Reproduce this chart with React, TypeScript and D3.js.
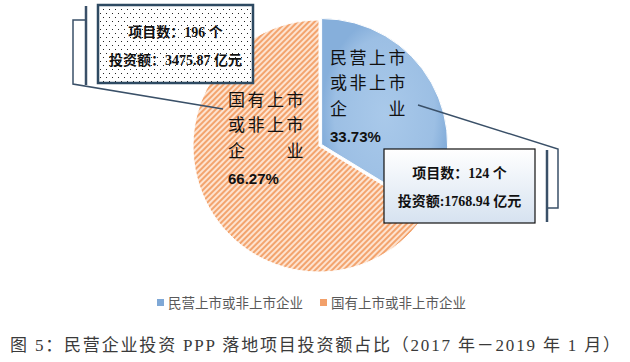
import React from "react";
import * as d3 from "d3";

const categories = ["民营上市或非上市企业", "国有上市或非上市企业"];
const investment = [1768.94, 3475.87];
const projects = [124, 196];
const percentLabels = ["33.73%", "66.27%"];
const sliceLines = [
  ["民营上市", "或非上市", "企  业"],
  ["国有上市", "或非上市", "企  业"],
];
const caption = "图 5：民营企业投资 PPP 落地项目投资额占比（2017 年－2019 年 1 月）";

const width = 630;
const height = 362;
const cx = 319;
const cy = 146;
const radius = 126;

const cjk = "'Noto Sans CJK SC', 'Noto Sans', sans-serif";
const serifCjk = "'Liberation Serif', 'Noto Sans CJK SC', serif";

export default function App() {
  const pie = d3.pie<number>().sort(null).value((d) => d);
  const arcs = pie(investment);
  const arc = d3.arc<d3.PieArcDatum<number>>().innerRadius(0).outerRadius(radius);

  const fills = ["url(#blueGrad)", "url(#hatch)"];
  const legendColors = ["#7fa8d6", "#f2a06a"];
  const explode = [3, 0];

  // label anchor positions (top-left of the text block)
  const labelPos = [
    { x: 330, y: 58 },
    { x: 228, y: 100 },
  ];
  const charStep = 19.5;

  return (
    <svg
      width={width}
      height={height}
      style={{ position: "absolute", left: 0, top: 0, background: "#fff" }}
    >
      <defs>
        <radialGradient id="blueGrad" cx="50%" cy="50%" r="50%">
          <stop offset="0%" stopColor="#a9c9ea" />
          <stop offset="80%" stopColor="#9cbfe4" />
          <stop offset="100%" stopColor="#86afdb" />
        </radialGradient>
        <pattern id="hatch" width="4" height="4" patternUnits="userSpaceOnUse" patternTransform="rotate(45)">
          <rect width="4" height="4" fill="#fde3d0" />
          <rect width="2" height="4" fill="#f3a46e" />
        </pattern>
        <pattern id="dots" width="6" height="8" patternUnits="userSpaceOnUse">
          <rect width="6" height="8" fill="#fff" />
          <rect x="1" y="1" width="1" height="1" fill="#222" />
          <rect x="4" y="5" width="1" height="1" fill="#222" />
        </pattern>
        <linearGradient id="boxGrad" x1="0" y1="0" x2="0" y2="1">
          <stop offset="0%" stopColor="#ffffff" />
          <stop offset="100%" stopColor="#d6e2f0" />
        </linearGradient>
      </defs>

      {/* pie slices */}
      {arcs.map((a, i) => {
        const mid = (a.startAngle + a.endAngle) / 2;
        const dx = Math.sin(mid) * explode[i];
        const dy = -Math.cos(mid) * explode[i];
        return (
          <path
            key={i}
            d={arc(a) || ""}
            transform={`translate(${cx + dx},${cy + dy})`}
            fill={fills[i]}
            stroke="#fff"
            strokeWidth={1}
          />
        );
      })}

      {/* slice labels */}
      {sliceLines.map((lines, i) => (
        <g key={i} fontFamily={cjk} fontSize={17} fill="#111">
          {lines.map((t, j) =>
            Array.from(t).map((ch, k) =>
              ch === " " ? null : (
                <text
                  key={`${j}-${k}`}
                  x={labelPos[i].x + k * charStep}
                  y={labelPos[i].y + j * 25.5}
                  dy="0.35em"
                >
                  {ch}
                </text>
              )
            )
          )}
          <text
            x={labelPos[i].x}
            y={labelPos[i].y + 79}
            dy="0.35em"
            fontFamily="'Liberation Sans', Arial, sans-serif"
            fontWeight="bold"
            fontSize={15}
          >
            {percentLabels[i]}
          </text>
        </g>
      ))}

      {/* callout: state-owned */}
      <g fill="none" stroke="#3a5068">
        <line x1={86} y1={6} x2={86} y2={85} strokeWidth={2.5} />
        <polyline points="86,20 73,20 73,84 223,109" strokeWidth={1.5} />
      </g>
      <rect x={98} y={5} width={155} height={78} fill="url(#dots)" stroke="#2e4a62" strokeWidth={2.5} />
      <g fontFamily={serifCjk} fontWeight="bold" fontSize={14} fill="#111" textAnchor="middle">
        <text x={175.5} y={32} dy="0.35em">{`项目数：${projects[1]} 个`}</text>
        <text x={175.5} y={60} dy="0.35em">{`投资额：${investment[1].toFixed(2)} 亿元`}</text>
      </g>

      {/* callout: private */}
      <g fill="none" stroke="#3a5068">
        <line x1={547} y1={150} x2={547} y2={222} strokeWidth={2.5} />
        <polyline points="418,105 558,149 558,208 547,208" strokeWidth={1.5} />
      </g>
      <rect x={384} y={149} width={151} height={74} fill="url(#boxGrad)" stroke="#111" strokeWidth={1.2} />
      <g fontFamily={serifCjk} fontWeight="bold" fontSize={14} fill="#111" textAnchor="middle">
        <text x={459.5} y={173} dy="0.35em">{`项目数：${projects[0]} 个`}</text>
        <text x={459.5} y={201} dy="0.35em">{`投资额:${investment[0].toFixed(2)} 亿元`}</text>
      </g>

      {/* legend */}
      {categories.map((c, i) => {
        const lx = i === 0 ? 157 : 320;
        return (
          <g key={c}>
            <rect x={lx} y={299} width={7} height={7} fill={legendColors[i]} />
            <text x={lx + 11} y={303} dy="0.35em" fontFamily={cjk} fontSize={13.5} fill="#595959">
              {c}
            </text>
          </g>
        );
      })}

      {/* caption */}
      <text
        x={10}
        y={345}
        dy="0.35em"
        fontFamily={serifCjk}
        fontSize={17}
        fill="#3a3a3a"
        textLength={610}
        lengthAdjust="spacing"
      >
        {caption}
      </text>
    </svg>
  );
}
